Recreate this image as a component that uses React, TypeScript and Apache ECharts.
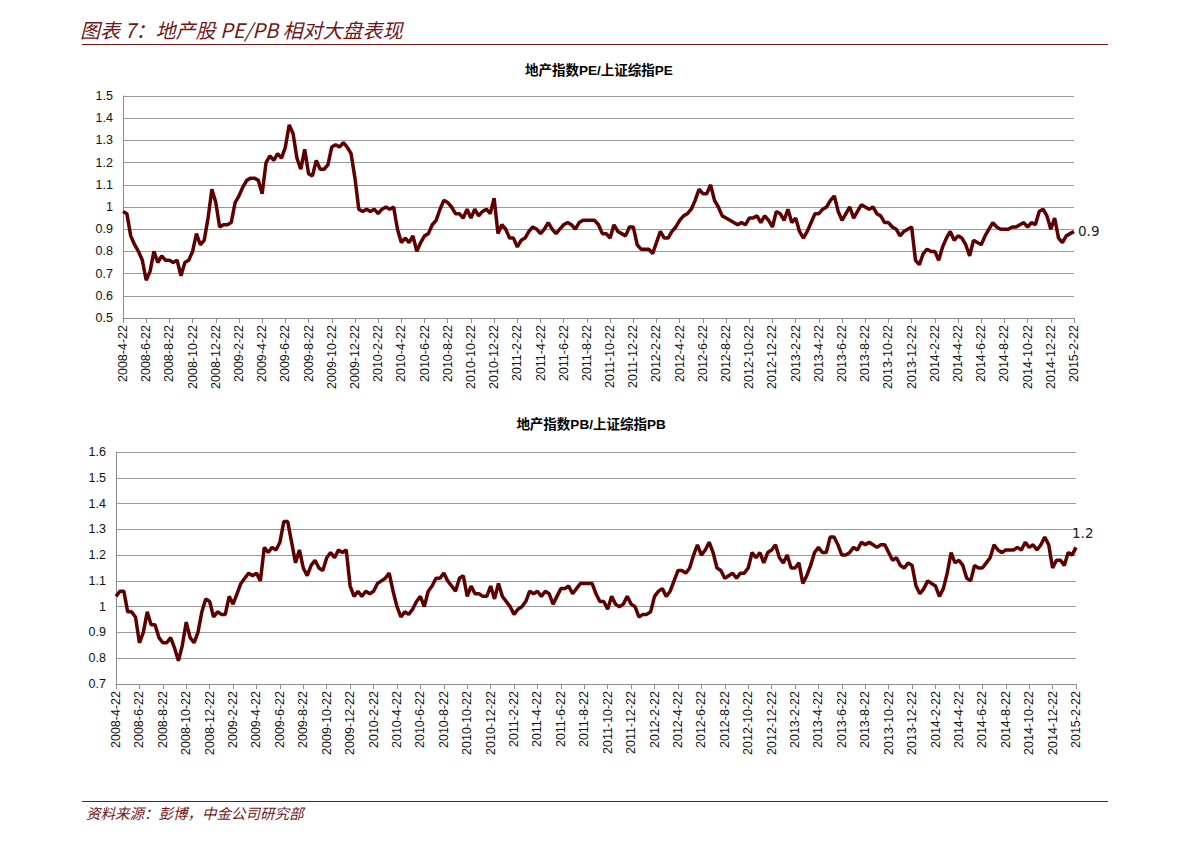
import React, { useEffect, useRef } from "react";
import * as echarts from "echarts";

// Relative PE: property index PE / SSE Composite PE (3 readings per month, 2008-4-22 .. 2015-2-22)
const peRatio: number[] = [
  0.98, 0.97, 0.87, 0.83, 0.80, 0.76,
  0.67, 0.71, 0.80, 0.75, 0.78, 0.76,
  0.76, 0.75, 0.76, 0.69, 0.75, 0.76,
  0.80, 0.88, 0.83, 0.85, 0.95, 1.08,
  1.02, 0.91, 0.92, 0.92, 0.93, 1.02,
  1.05, 1.09, 1.12, 1.13, 1.13, 1.12,
  1.06, 1.20, 1.23, 1.21, 1.24, 1.22,
  1.27, 1.37, 1.33, 1.22, 1.17, 1.26,
  1.15, 1.14, 1.21, 1.17, 1.17, 1.19,
  1.27, 1.28, 1.27, 1.29, 1.27, 1.24,
  1.13, 0.99, 0.98, 0.99, 0.98, 0.99,
  0.97, 0.99, 1.00, 0.99, 1.00, 0.90,
  0.84, 0.86, 0.84, 0.87, 0.80, 0.84,
  0.87, 0.88, 0.92, 0.94, 0.99, 1.03,
  1.02, 1.00, 0.97, 0.97, 0.95, 0.99,
  0.95, 0.99, 0.96, 0.98, 0.99, 0.97,
  1.04, 0.88, 0.92, 0.90, 0.86, 0.86,
  0.82, 0.85, 0.86, 0.89, 0.91, 0.90,
  0.88, 0.90, 0.93, 0.90, 0.88, 0.90,
  0.92, 0.93, 0.92, 0.90, 0.93, 0.94,
  0.94, 0.94, 0.94, 0.92, 0.88, 0.88,
  0.86, 0.92, 0.89, 0.88, 0.87, 0.91,
  0.91, 0.83, 0.81, 0.81, 0.81, 0.79,
  0.84, 0.89, 0.86, 0.86, 0.89, 0.91,
  0.94, 0.96, 0.97, 0.99, 1.03, 1.08,
  1.06, 1.06, 1.10, 1.03, 1.00, 0.96,
  0.95, 0.94, 0.93, 0.92, 0.93, 0.92,
  0.95, 0.95, 0.96, 0.93, 0.96, 0.94,
  0.91, 0.98, 0.97, 0.94, 0.99, 0.93,
  0.95, 0.89, 0.86, 0.89, 0.93, 0.97,
  0.97, 0.99, 1.00, 1.03, 1.05, 0.98,
  0.94, 0.97, 1.00, 0.95, 0.98, 1.01,
  1.00, 0.99, 1.00, 0.97, 0.96, 0.93,
  0.93, 0.91, 0.90, 0.87, 0.89, 0.90,
  0.91, 0.76, 0.74, 0.79, 0.81, 0.80,
  0.80, 0.76, 0.82, 0.86, 0.89, 0.85,
  0.87, 0.86, 0.83, 0.78, 0.85, 0.84,
  0.83, 0.87, 0.90, 0.93, 0.91, 0.90,
  0.90, 0.90, 0.91, 0.91, 0.92, 0.93,
  0.91, 0.93, 0.92, 0.98, 0.99, 0.96,
  0.90, 0.95, 0.86, 0.84, 0.87, 0.88,
  0.89,
];

// Relative PB: property index PB / SSE Composite PB
const pbRatio: number[] = [
  1.04, 1.06, 1.06, 0.98, 0.98, 0.96,
  0.86, 0.90, 0.98, 0.93, 0.93, 0.88,
  0.86, 0.86, 0.88, 0.84, 0.79, 0.85,
  0.94, 0.88, 0.86, 0.90, 0.98, 1.03,
  1.02, 0.96, 0.98, 0.97, 0.97, 1.04,
  1.01, 1.05, 1.09, 1.11, 1.13, 1.12,
  1.13, 1.10, 1.23, 1.21, 1.23, 1.22,
  1.25, 1.33, 1.33, 1.25, 1.17, 1.22,
  1.15, 1.12, 1.16, 1.18, 1.15, 1.14,
  1.19, 1.21, 1.19, 1.22, 1.21, 1.22,
  1.08, 1.04, 1.06, 1.04, 1.06, 1.05,
  1.06, 1.09, 1.10, 1.11, 1.13, 1.06,
  1.00, 0.96, 0.98, 0.97, 0.99, 1.02,
  1.04, 1.00, 1.06, 1.08, 1.11, 1.11,
  1.13, 1.10, 1.08, 1.06, 1.11, 1.12,
  1.04, 1.08, 1.05, 1.05, 1.04, 1.04,
  1.08, 1.03, 1.09, 1.04, 1.02, 1.00,
  0.97, 0.99, 1.00, 1.02, 1.06, 1.05,
  1.06, 1.04, 1.06, 1.05, 1.01, 1.04,
  1.07, 1.07, 1.08, 1.05, 1.07, 1.09,
  1.09, 1.09, 1.09, 1.05, 1.02, 1.02,
  0.99, 1.04, 1.01, 1.00, 1.01, 1.04,
  1.01, 1.00, 0.96, 0.97, 0.97, 0.98,
  1.04, 1.06, 1.07, 1.04, 1.06, 1.10,
  1.14, 1.14, 1.13, 1.15, 1.20, 1.24,
  1.20, 1.22, 1.25, 1.21, 1.15, 1.14,
  1.11, 1.12, 1.13, 1.11, 1.13, 1.13,
  1.15, 1.21, 1.19, 1.21, 1.17, 1.21,
  1.22, 1.24, 1.19, 1.17, 1.20, 1.15,
  1.15, 1.17, 1.09, 1.12, 1.16, 1.21,
  1.23, 1.21, 1.21, 1.27, 1.27, 1.24,
  1.20, 1.20, 1.21, 1.23, 1.22, 1.25,
  1.24, 1.25, 1.24, 1.23, 1.24, 1.24,
  1.21, 1.18, 1.19, 1.16, 1.15, 1.17,
  1.16, 1.08, 1.05, 1.07, 1.10, 1.09,
  1.08, 1.04, 1.07, 1.13, 1.21, 1.17,
  1.18, 1.16, 1.11, 1.10, 1.16, 1.15,
  1.15, 1.17, 1.19, 1.24, 1.22, 1.21,
  1.22, 1.22, 1.22, 1.23, 1.22, 1.25,
  1.23, 1.24, 1.22, 1.24, 1.27, 1.24,
  1.15, 1.18, 1.18, 1.16, 1.21, 1.20,
  1.23,
];

const startYear = 2008;
const startMonth = 4; // April
const subDays = [22, 1, 11];

// Category dates: three readings per month; every sixth one is a 2-monthly tick label
const dates: string[] = peRatio.map((_, i) => {
  const m = Math.floor(i / 3) + (i % 3 === 0 ? 0 : 1);
  const total = startMonth - 1 + m;
  const y = startYear + Math.floor(total / 12);
  const mo = (total % 12) + 1;
  return `${y}-${mo}-${subDays[i % 3]}`;
});

const peTitle = "地产指数PE/上证综指PE";
const pbTitle = "地产指数PB/上证综指PB";
const pageTitle = "图表 7：地产股 PE/PB 相对大盘表现";
const sourceNote = "资料来源：彭博，中金公司研究部";

const LINE = "#5e0000";
const DARK_RED = "#701818";
const FONT = "'Liberation Sans', Arial, 'Noto Sans CJK SC', sans-serif";

export default function App() {
  const ref = useRef<HTMLDivElement>(null);

  useEffect(() => {
    if (!ref.current) return;
    const chart = echarts.init(ref.current, undefined, { renderer: "svg" });

    const xAxisBase = (gridIndex: number) => ({
      type: "category" as const,
      gridIndex,
      data: dates,
      boundaryGap: false,
      axisLine: { lineStyle: { color: "#8c8c8c", width: 1 } },
      axisTick: { show: true, interval: 5, length: 5, lineStyle: { color: "#8c8c8c" } },
      axisLabel: {
        interval: 5,
        rotate: 90,
        color: "#111",
        fontSize: 12.5,
        fontFamily: FONT,
        margin: 7,
      },
      splitLine: { show: false },
    });

    const yAxisBase = (gridIndex: number, min: number, max: number) => ({
      type: "value" as const,
      gridIndex,
      min,
      max,
      interval: 0.1,
      axisLine: { show: true, lineStyle: { color: "#8c8c8c", width: 1 } },
      axisTick: { show: false },
      axisLabel: {
        color: "#111",
        fontSize: 12.5,
        fontFamily: FONT,
        margin: 10,
        formatter: (v: number) => String(Math.round(v * 10) / 10),
      },
      splitLine: { show: true, lineStyle: { color: "#9a9a9a", width: 1 } },
    });

    const endLabel = {
      show: true,
      distance: 4,
      formatter: (p: any) => Number(Array.isArray(p.value) ? p.value[1] : p.value).toFixed(1),
      color: "#222",
      fontSize: 13.5,
      fontFamily: "'DejaVu Sans', sans-serif",
    };

    chart.setOption({
      animation: false,
      backgroundColor: "#ffffff",
      title: [
        {
          text: peTitle,
          left: 594,
          top: 59,
          textAlign: "center",
          textStyle: { fontSize: 13.5, fontWeight: "bold", color: "#000", fontFamily: FONT },
        },
        {
          text: pbTitle,
          left: 586,
          top: 413,
          textAlign: "center",
          textStyle: { fontSize: 13.5, fontWeight: "bold", color: "#000", fontFamily: FONT },
        },
      ],
      grid: [
        { left: 123, top: 96, width: 951, height: 222, containLabel: false },
        { left: 116, top: 452, width: 960, height: 232, containLabel: false },
      ],
      xAxis: [xAxisBase(0), xAxisBase(1)],
      yAxis: [yAxisBase(0, 0.5, 1.5), yAxisBase(1, 0.7, 1.6)],
      series: [
        {
          type: "line",
          xAxisIndex: 0,
          yAxisIndex: 0,
          data: peRatio,
          showSymbol: false,
          symbol: "none",
          lineStyle: { color: LINE, width: 3.5 },
          endLabel: { ...endLabel, offset: [0, 0] },
        },
        {
          type: "line",
          xAxisIndex: 1,
          yAxisIndex: 1,
          data: pbRatio,
          showSymbol: false,
          symbol: "none",
          lineStyle: { color: LINE, width: 3.5 },
          endLabel: { ...endLabel, offset: [-8, -14] },
        },
      ],
      graphic: [
        {
          type: "text",
          left: 80,
          top: 19,
          style: {
            text: pageTitle,
            fill: DARK_RED,
            fontSize: 20,
            fontStyle: "italic",
            fontFamily: "'Noto Sans CJK SC', sans-serif",
          },
        },
        {
          type: "line",
          shape: { x1: 82, y1: 44.5, x2: 1108, y2: 44.5 },
          style: { stroke: DARK_RED, lineWidth: 1.2 },
        },
        {
          type: "line",
          shape: { x1: 82, y1: 801.5, x2: 1108, y2: 801.5 },
          style: { stroke: DARK_RED, lineWidth: 1.2 },
        },
        {
          type: "text",
          left: 86,
          top: 805,
          style: {
            text: sourceNote,
            fill: DARK_RED,
            fontSize: 14.5,
            fontStyle: "italic",
            fontFamily: "'Noto Sans CJK SC', sans-serif",
          },
        },
      ],
    });

    return () => chart.dispose();
  }, []);

  return (
    <div
      ref={ref}
      style={{ position: "fixed", left: 0, top: 0, width: 1191, height: 842, background: "#fff" }}
    />
  );
}
